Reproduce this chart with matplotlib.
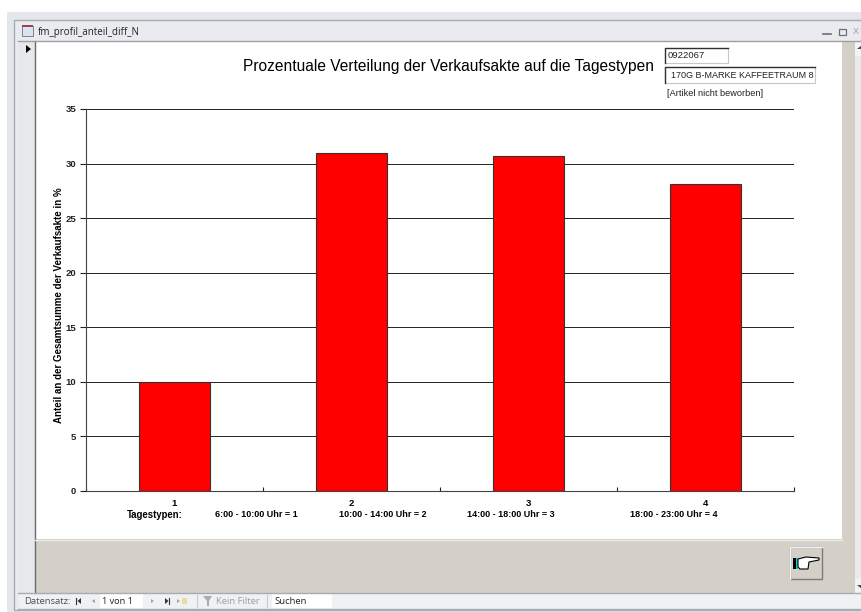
import matplotlib
matplotlib.use("Agg")
import matplotlib.pyplot as plt
from matplotlib.patches import Rectangle, Polygon

plt.rcParams['font.family'] = ['Liberation Sans', 'DejaVu Sans']

tage = [1, 2, 3, 4]
anteil = [10.0, 31.0, 30.7, 28.1]
y_ticks = [0, 5, 10, 15, 20, 25, 30, 35]
legende = ["6:00 - 10:00 Uhr = 1", "10:00 - 14:00 Uhr = 2",
           "14:00 - 18:00 Uhr = 3", "18:00 - 23:00 Uhr = 4"]
W, H = 862, 612

fig = plt.figure(figsize=(W / 100, H / 100), dpi=100, facecolor='white')

# access window drawn in pixel coords
bg = fig.add_axes([0, 0, 1, 1])
bg.set_xlim(0, W)
bg.set_ylim(H, 0)
bg.axis('off')


def box(x, y, w, h, fc, ec='none', lw=0):
    bg.add_patch(Rectangle((x, y), w, h, facecolor=fc, edgecolor=ec, linewidth=lw))


box(7, 12, 855, 600, '#e3e6ea')
box(14, 20, 848, 590, '#e9ebee', ec='#a8acb0', lw=1)
box(18, 41, 844, 552, '#e6e8eb')
box(35, 41, 827, 552, '#d4d0c8')
box(36, 42, 806, 497, 'white')
bg.plot([35, 35], [41, 593], color='#6a6a6a', lw=1)
bg.plot([18, 862], [41, 41], color='#a0a0a0', lw=1)
bg.plot([35, 842], [539.5, 539.5], color='#ececec', lw=1)

# title bar
box(22, 26, 11, 10, '#d8e4f0', ec='#7a6a80', lw=0.6)
box(22, 25, 11, 2, '#a83a5a')
bg.text(38, 32, "fm_profil_anteil_diff_N", fontsize=7, family='Open Sans',
        va='center', color='#222222')
bg.add_patch(Polygon([[26, 45], [26, 53], [31, 49]], facecolor='black'))
bg.plot([823, 831], [34, 34], color='#6a7078', lw=1.2)
box(839, 29, 7, 6, 'none', ec='#6a7078', lw=0.9)
bg.text(853, 32, "X", fontsize=6.5, va='center', color='#9a9ea4')

# scrollbar right
box(855, 42, 7, 551, '#e8eaec')
box(855, 42, 7, 14, '#f2f3f5')
bg.add_patch(Polygon([[857, 49], [862, 49], [862, 45]], facecolor='#3a4a68'))
box(855, 579, 7, 14, '#f2f3f5')
bg.add_patch(Polygon([[857, 585], [862, 585], [862, 589]], facecolor='#3a4a68'))

# record nav bar
box(19, 593, 843, 16, '#f0f1f3')
bg.plot([18, 862], [593, 593], color='#a8acb0', lw=1)
bg.plot([18, 862], [609, 609], color='#a8acb0', lw=1)
bg.text(24, 601.5, "Datensatz:", fontsize=6.8, family='Open Sans', va='center', color='#4a4f58')
bg.plot([76.5, 76.5], [598, 604], color='#333333', lw=0.8)
bg.add_patch(Polygon([[81, 598], [81, 604], [77.5, 601]], facecolor='#333333'))
bg.add_patch(Polygon([[95, 599], [95, 603], [92, 601]], facecolor='#a0a4a8'))
box(100, 594, 43, 14, 'white')
bg.text(102, 601.5, "1 von 1", fontsize=6.6, family='Open Sans', va='center', color='#222222')
bg.add_patch(Polygon([[151, 599], [151, 603], [154, 601]], facecolor='#a0a4a8'))
bg.add_patch(Polygon([[165, 598], [165, 604], [168.5, 601]], facecolor='#333333'))
bg.plot([169.5, 169.5], [598, 604], color='#333333', lw=0.8)
bg.add_patch(Polygon([[177, 599], [177, 603], [180, 601]], facecolor='#a0a4a8'))
box(182, 598, 5, 6, '#e8dca0')
bg.plot([197, 197], [595, 607], color='#c8ccd0', lw=0.8)
bg.add_patch(Polygon([[203, 596], [212, 596], [209, 601], [209, 606], [207, 606], [207, 601]],
                     facecolor='#a8acb0'))
bg.text(216, 601.5, "Kein Filter", fontsize=6.8, family='Open Sans', va='center', color='#9a9ea4')
bg.plot([267, 267], [595, 607], color='#c8ccd0', lw=0.8)
box(272, 594, 60, 14, 'white')
bg.text(274, 601.5, "Suchen", fontsize=6.8, family='Open Sans', va='center', color='#222222')

# text fields top right
box(665, 48, 63, 15, 'white', ec='#c8c8c0', lw=0.8)
bg.plot([665, 665, 728], [63, 48, 48], color='#303030', lw=1)
bg.text(668, 55, "0922067", fontsize=6.8, va='center', color='#222222')
feld = Rectangle((665, 67), 150, 16, facecolor='white', edgecolor='#c8c8c0', linewidth=0.8)
bg.add_patch(feld)
bg.plot([665, 665, 815], [83, 67, 67], color='#303030', lw=1)
artikel = bg.text(671, 75, "170G B-MARKE KAFFEETRAUM 8", fontsize=6.5, va='center',
                  color='#222222')
artikel.set_clip_path(feld)
artikel.set_clip_on(True)
bg.text(667, 93.5, "[Artikel nicht beworben]", fontsize=6.6, va='center', color='#222222')

# button
box(790, 547, 32, 32, '#d4d0c8', ec='#7a7a7a', lw=1)
bg.plot([790, 790, 822], [579, 547, 547], color='#f4f4f4', lw=1)
box(793, 558, 3, 11, 'black')
box(796, 558, 2, 11, '#20c0d0')
bg.add_patch(Polygon([[798, 559], [806, 557], [819, 558], [819, 560], [809, 562],
                      [808, 569], [800, 569], [798, 567]],
                     facecolor='white', edgecolor='black', linewidth=0.8))

bg.text(449, 67, "Prozentuale Verteilung der Verkaufsakte auf die Tagestypen",
        fontsize=11.2, ha='center', va='center', color='black')

# chart
ax = fig.add_axes([86 / W, 1 - 491 / H, (794 - 86) / W, (491 - 109) / H])
ax.set_facecolor('white')
ax.set_xlim(0.5, 4.5)
ax.set_ylim(0, 35)
ax.bar(tage, anteil, width=0.4, color='#ff0000', edgecolor='#333333', linewidth=0.8,
       zorder=3)
ax.set_yticks(y_ticks)
ax.set_xticks([0.5, 1.5, 2.5, 3.5, 4.5])
ax.set_xticklabels([])
ax.grid(axis='y', color='#222222', lw=0.7, zorder=1)
ax.spines['top'].set_visible(False)
ax.spines['right'].set_visible(False)
ax.spines['left'].set_color('#444444')
ax.spines['bottom'].set_color('#444444')
ax.tick_params(axis='y', length=4, width=0.8, pad=3, labelsize=6.8, colors='#222222')
ax.tick_params(axis='x', length=3, width=0.8, direction='in', colors='#222222')
for lbl in ax.get_yticklabels():
    lbl.set_fontweight('bold')
ax.set_ylabel("Anteil an der Gesamtsumme der Verkaufsakte in %", fontsize=7,
              fontweight='bold')
ax.yaxis.set_label_coords(-0.031, 0.487)

# labels under the axis
trans = ax.get_xaxis_transform()
for t in tage:
    ax.text(t, -0.034, str(t), transform=trans, ha='center', va='center',
            fontsize=6.8, fontweight='bold')
bg.text(155, 514.5, "Tagestypen:", fontsize=6.9, fontweight='bold', ha='center', va='center')
for x, s in zip([256, 383, 511, 674], legende):
    bg.text(x, 514.5, s, fontsize=6.5, fontweight='bold', ha='center', va='center')

fig.savefig("out.png", dpi=100)
